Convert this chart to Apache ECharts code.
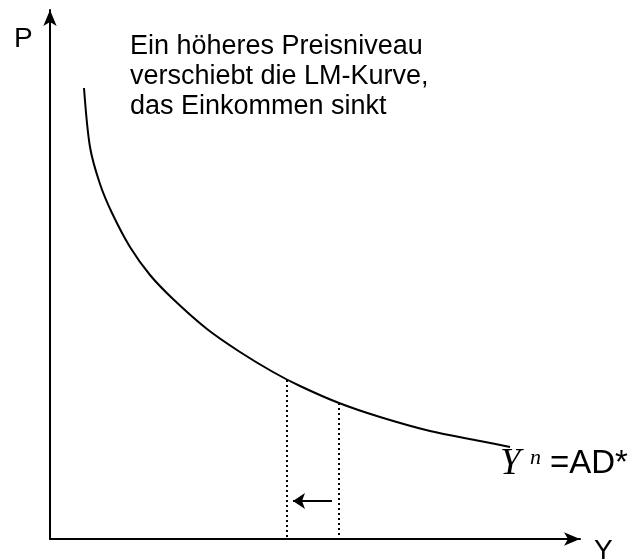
<!DOCTYPE html>
<html>
<head>
<meta charset="utf-8">
<script src="https://cdn.jsdelivr.net/npm/echarts@6/dist/echarts.min.js"></script>
<style>
  html, body { margin: 0; padding: 0; background: #fff; }
  #main { width: 641px; height: 560px; }
</style>
</head>
<body>
<div id="main"></div>
<script>
// AD-Kurve (Y, P) in Achseneinheiten
var kurveY = [34, 40, 50, 62, 80, 100, 123, 157, 190, 223, 250, 289, 330, 380, 430, 460];
var kurveP = [451, 392, 355, 326, 292, 264, 240, 210, 187, 167, 153, 136, 122, 108, 98, 92];
// gepunktete Senkrechten
var lotY = [237, 289];
var lotP = [159, 136];
// Pfeil: Einkommen sinkt
var pfeilVon = [282, 38];
var pfeilBis = [243, 38];

var kurve = [];
for (var i = 0; i < kurveY.length; i++) kurve.push([kurveY[i], kurveP[i]]);

var lote = [];
for (var j = 0; j < lotY.length; j++) {
  lote.push({ coords: [[lotY[j], lotP[j]], [lotY[j], 0]] });
}

var achse = {
  show: true,
  onZero: false,
  symbol: ['none', 'arrow'],
  symbolSize: [10, 16],
  lineStyle: { color: '#000', width: 2 }
};

var option = {
  animation: false,
  grid: { left: 50, right: 61, top: 10, bottom: 21 },
  xAxis: {
    type: 'value', min: 0, max: 530,
    axisLine: achse, axisTick: { show: false },
    axisLabel: { show: false }, splitLine: { show: false }
  },
  yAxis: {
    type: 'value', min: 0, max: 529,
    axisLine: achse, axisTick: { show: false },
    axisLabel: { show: false }, splitLine: { show: false }
  },
  series: [
    {
      type: 'line',
      data: kurve,
      smooth: 0.3,
      showSymbol: false,
      lineStyle: { color: '#000', width: 2 }
    },
    {
      type: 'lines',
      coordinateSystem: 'cartesian2d',
      data: lote,
      lineStyle: { color: '#000', width: 2, opacity: 1, type: [2, 3] }
    },
    {
      type: 'lines',
      coordinateSystem: 'cartesian2d',
      symbol: ['none', 'arrow'],
      symbolSize: [10, 12],
      data: [{ coords: [pfeilVon, pfeilBis] }],
      lineStyle: { color: '#000', width: 2, opacity: 1 }
    }
  ],
  graphic: [
    {
      type: 'text', left: 14, top: 25,
      style: { text: 'P', fontSize: 28, fontFamily: 'Liberation Sans', fill: '#000' }
    },
    {
      type: 'text', left: 594, top: 537,
      style: { text: 'Y', fontSize: 28, fontFamily: 'Liberation Sans', fill: '#000' }
    },
    {
      type: 'text', left: 130, top: 32,
      style: {
        text: 'Ein höheres Preisniveau\nverschiebt die LM-Kurve,\ndas Einkommen sinkt',
        fontSize: 27, fontFamily: 'Liberation Sans', lineHeight: 30, fill: '#000'
      }
    },
    {
      type: 'text', left: 500, top: 446,
      style: { text: 'Y', fontSize: 37, fontStyle: 'italic', fontFamily: 'Liberation Serif', fill: '#000' }
    },
    {
      type: 'text', left: 530, top: 447,
      style: { text: 'n', fontSize: 22, fontStyle: 'italic', fontFamily: 'Liberation Serif', fill: '#000' }
    },
    {
      type: 'text', left: 550, top: 447,
      style: { text: '=AD*', fontSize: 33, fontFamily: 'Liberation Sans', fill: '#000' }
    }
  ]
};

var myChart = echarts.init(document.getElementById('main'));
myChart.setOption(option, true);
</script>
</body>
</html>
